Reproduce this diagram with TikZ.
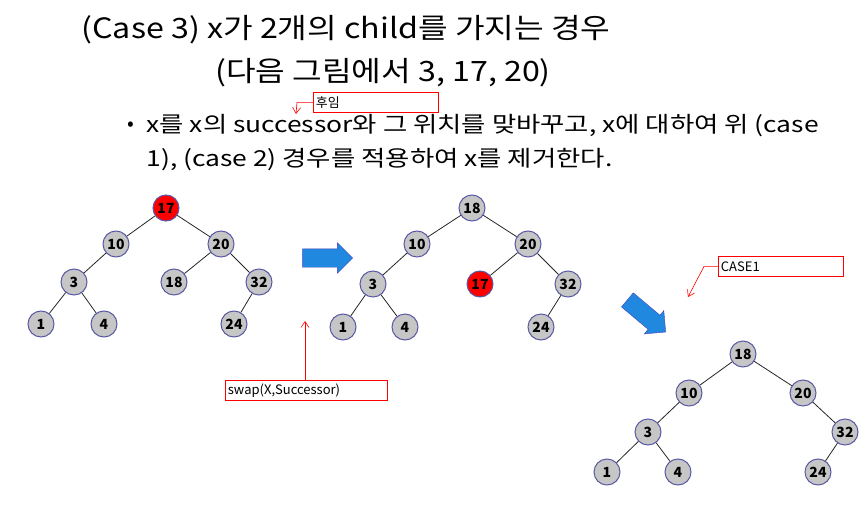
\documentclass[tikz,border=0pt]{standalone}
\usepackage{fontspec}
\setmainfont{Noto Sans CJK KR}
\usetikzlibrary{shapes.arrows,arrows.meta}
\begin{document}
\begin{tikzpicture}[x=1pt,y=-1pt,
  nd/.style={circle,draw=blue!30!gray,line width=1pt,fill=gray!45,minimum size=26pt,inner sep=0pt,font=\fontsize{14}{14}\selectfont\bfseries},
  rd/.style={nd,fill=red},
  ed/.style={draw=black!85,line width=0.8pt},
  rbox/.style={draw=red,line width=0.8pt,minimum width=125pt,minimum height=20pt,anchor=north west,inner sep=2pt,text width=120pt,align=left,font=\fontsize{13}{14}\selectfont},
  rarr/.style={draw=red,line width=0.6pt,-{Straight Barb[length=6pt,width=8pt]}},
  big/.style={single arrow,draw=blue!50!gray,fill=blue!45!cyan!75!gray,minimum height=50pt,minimum width=30pt,single arrow head extend=6pt,inner xsep=0pt,inner ysep=9pt}]
\useasboundingbox (0,0) rectangle (863,506);
\node[font=\fontsize{28}{30}\selectfont] (t1) at (346,30) {\scalebox{1.15}[1]{(Case 3) x가 2개의 child를 가지는 경우}};
\node[font=\fontsize{28}{30}\selectfont] (t2) at (383,73) {\scalebox{1.15}[1]{(다음 그림에서 3, 17, 20)}};
\node[font=\fontsize{20}{24}\selectfont] (b) at (131,126) {•};
\node[anchor=west,font=\fontsize{22}{24}\selectfont] (l1) at (143,126) {\scalebox{1.2}[1]{x를 x의 successor와 그 위치를 맞바꾸고, x에 대하여 위 (case}};
\node[anchor=west,font=\fontsize{22}{24}\selectfont] (l2) at (143,160) {\scalebox{1.2}[1]{1), (case 2) 경우를 적용하여 x를 제거한다.}};
% tree 1
\node[rd] (a17) at (166,208) {17};
\node[nd] (a10) at (116,244) {10};
\node[nd] (a20) at (221,244) {20};
\node[nd] (a3) at (74,282) {3};
\node[nd] (a18) at (174,282) {18};
\node[nd] (a32) at (259,282) {32};
\node[nd] (a1) at (41,324) {1};
\node[nd] (a4) at (104,324) {4};
\node[nd] (a24) at (234,324) {24};
\draw[ed] (a17)--(a10) (a17)--(a20) (a10)--(a3) (a3)--(a1) (a3)--(a4) (a20)--(a18) (a20)--(a32) (a32)--(a24);
% tree 2
\node[nd] (b18) at (472,208) {18};
\node[nd] (b10) at (417,244) {10};
\node[nd] (b20) at (528,244) {20};
\node[nd] (b3) at (373,284) {3};
\node[rd] (b17) at (480,284) {17};
\node[nd] (b32) at (568,284) {32};
\node[nd] (b1) at (343,327) {1};
\node[nd] (b4) at (405,327) {4};
\node[nd] (b24) at (541,327) {24};
\draw[ed] (b18)--(b10) (b18)--(b20) (b10)--(b3) (b3)--(b1) (b3)--(b4) (b20)--(b17) (b20)--(b32) (b32)--(b24);
% tree 3
\node[nd] (c18) at (743,354) {18};
\node[nd] (c10) at (689,393) {10};
\node[nd] (c20) at (803,393) {20};
\node[nd] (c3) at (648,432) {3};
\node[nd] (c32) at (845,432) {32};
\node[nd] (c1) at (607,472) {1};
\node[nd] (c4) at (678,472) {4};
\node[nd] (c24) at (818,472) {24};
\draw[ed] (c18)--(c10) (c18)--(c20) (c10)--(c3) (c3)--(c1) (c3)--(c4) (c20)--(c32) (c32)--(c24);
% big arrows
\node[big] (ar1) at (323,258) {};
\node[big,rotate=-40] (ar2) at (643,313) {};
% red annotations
\node[rbox] (k) at (313,92) {후임};
\coordinate (kt) at (296,114);
\draw[rarr] (k.west) -- ++(-16,0) -- (kt);
\node[rbox] (cs) at (718,256) {CASE1};
\coordinate (ct) at (688,297);
\draw[rarr] (cs.west) -- ++(-14,0) -- (ct);
\node[rbox,minimum width=162pt,text width=157pt] (sw) at (225,380) {swap(X,Successor)};
\coordinate (st) at (305,321);
\draw[rarr] (sw.north -| st) -- (st);
\end{tikzpicture}
\end{document}
